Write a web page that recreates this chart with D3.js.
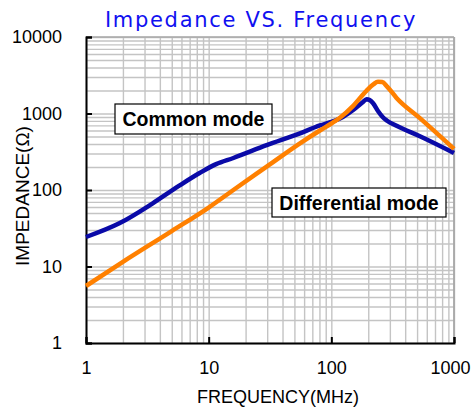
<!DOCTYPE html>
<html>
<head>
<meta charset="utf-8">
<script src="https://cdn.jsdelivr.net/npm/d3@7"></script>
<style>
  body { margin: 0; background: #fff; }
  svg { display: block; }
</style>
</head>
<body>
<svg id="svg" width="472" height="408"></svg>
<script>
const width = 472;
const height = 408;

// data (MHz, ohm)
const cmFreq = [1, 1.87, 3.5, 5.76, 8.5, 11.5, 15.9, 29.7, 55.5, 80.7, 100, 117.5, 150.7, 180, 194, 205, 219, 240, 262, 285, 340, 527, 1000];
const cmImp  = [24.3, 36.7, 67, 114, 168, 218, 262, 385, 551, 700, 775, 860, 1111, 1400, 1540, 1500, 1362, 1080, 900, 805, 690, 505, 305];

const dmFreq = [1, 2, 5, 10, 15.9, 29.7, 55.5, 80.7, 100, 117.5, 150.7, 194, 220, 240, 260, 285, 340, 527, 1000];
const dmImp  = [5.56, 11.5, 29, 59, 100, 202, 408, 600, 740, 880, 1260, 1995, 2400, 2600, 2580, 2250, 1600, 870, 345];

const xTicks = [1, 10, 100, 1000];
const xTickLabels = ["1", "10", "100", "1000"];
const yTicks = [1, 10, 100, 1000, 10000];
const yTickLabels = ["1", "10", "100", "1000", "10000"];

const svg = d3.select("#svg");
const margin = {top: 37, left: 86, right: 18, bottom: 65};
const innerWidth = width - margin.left - margin.right;
const innerHeight = height - margin.top - margin.bottom;

const xScale = d3.scaleLog().domain([1, 1000]).range([0, innerWidth]);
const yScale = d3.scaleLog().domain([1, 10000]).range([innerHeight, 0]);

// all log grid values (1..9 in each decade)
const gridVals = (lo, hi) => {
  const out = [];
  for (let d = lo; d < hi; d *= 10) {
    for (let k = 1; k < 10; k++) out.push(d * k);
  }
  out.push(hi);
  return out;
};

const g = svg.append('g')
  .attr('transform', `translate(${margin.left},${margin.top})`);

// grid
const xGrid = g.append('g')
  .attr('transform', `translate(0,${innerHeight})`)
  .call(d3.axisBottom(xScale).tickValues(gridVals(1, 1000)).tickSize(-innerHeight).tickFormat(''));
const yGrid = g.append('g')
  .call(d3.axisLeft(yScale).tickValues(gridVals(1, 10000)).tickSize(-innerWidth).tickFormat(''));
[xGrid, yGrid].forEach(a => {
  a.select('.domain').remove();
  a.selectAll('.tick text').remove();
  a.selectAll('.tick line').attr('stroke', '#c4c4c4').attr('stroke-width', 1.4);
});

// frame top / right
g.append('line').attr('x1', 0).attr('x2', innerWidth).attr('y1', 0).attr('y2', 0)
  .attr('stroke', '#a8a8a8').attr('stroke-width', 1.6);
g.append('line').attr('x1', innerWidth).attr('x2', innerWidth).attr('y1', 0).attr('y2', innerHeight)
  .attr('stroke', '#a8a8a8').attr('stroke-width', 1.8);

// axes
const yAxisG = g.append('g')
  .call(d3.axisLeft(yScale).tickValues(yTicks).tickSize(-6).tickPadding(24)
    .tickFormat((d, i) => yTickLabels[i]));
const xAxisG = g.append('g')
  .attr('transform', `translate(0,${innerHeight})`)
  .call(d3.axisBottom(xScale).tickValues(xTicks).tickSize(-6).tickPadding(18)
    .tickFormat((d, i) => xTickLabels[i]));
[xAxisG, yAxisG].forEach(a => {
  a.attr('font-family', 'Liberation Sans, Arial, sans-serif').attr('font-size', 18);
  a.select('.domain').attr('stroke', '#000').attr('stroke-width', 2);
  a.selectAll('.tick line').attr('stroke', '#000').attr('stroke-width', 2);
  a.selectAll('.tick text').attr('fill', '#000');
});
// keep the last x label inside the picture
xAxisG.selectAll('.tick text').filter(d => d === 1000).attr('dx', -4);

// curves
const line = (fs, zs) => d3.line()
  .x((d, i) => xScale(fs[i]))
  .y(d => yScale(d))
  .curve(d3.curveMonotoneX)(zs);

g.append('path').attr('d', line(cmFreq, cmImp))
  .attr('fill', 'none').attr('stroke', '#0a0aa8').attr('stroke-width', 4.5)
  .attr('stroke-linejoin', 'round');
g.append('path').attr('d', line(dmFreq, dmImp))
  .attr('fill', 'none').attr('stroke', '#ff8000').attr('stroke-width', 4.5)
  .attr('stroke-linejoin', 'round');

// label boxes
const labelBox = (x, y, w, h, txt) => {
  svg.append('rect').attr('x', x).attr('y', y).attr('width', w).attr('height', h)
    .attr('fill', '#fff').attr('stroke', '#000').attr('stroke-width', 1.2);
  svg.append('text').attr('x', x + w / 2).attr('y', y + h / 2 + 7)
    .attr('text-anchor', 'middle')
    .attr('font-family', 'Liberation Sans, Arial, sans-serif')
    .attr('font-weight', 'bold').attr('font-size', 19.5)
    .text(txt);
};
labelBox(115, 104, 157, 30, 'Common mode');
labelBox(272, 188, 174, 29, 'Differential mode');

// titles
svg.append('text')
  .attr('x', 261).attr('y', 27)
  .attr('text-anchor', 'middle')
  .attr('fill', '#1010f0')
  .attr('font-family', 'DejaVu Sans, sans-serif')
  .attr('font-size', 21)
  .attr('letter-spacing', 1.7)
  .text('Impedance VS. Frequency');

svg.append('text')
  .attr('x', 278).attr('y', 403)
  .attr('text-anchor', 'middle')
  .attr('font-family', 'Liberation Sans, Arial, sans-serif')
  .attr('font-size', 18)
  .text('FREQUENCY(MHz)');

svg.append('text')
  .attr('transform', 'translate(29,196) rotate(-90)')
  .attr('text-anchor', 'middle')
  .attr('font-family', 'Liberation Sans, Arial, sans-serif')
  .attr('font-size', 19)
  .text('IMPEDANCE(Ω)');
</script>
</body>
</html>
